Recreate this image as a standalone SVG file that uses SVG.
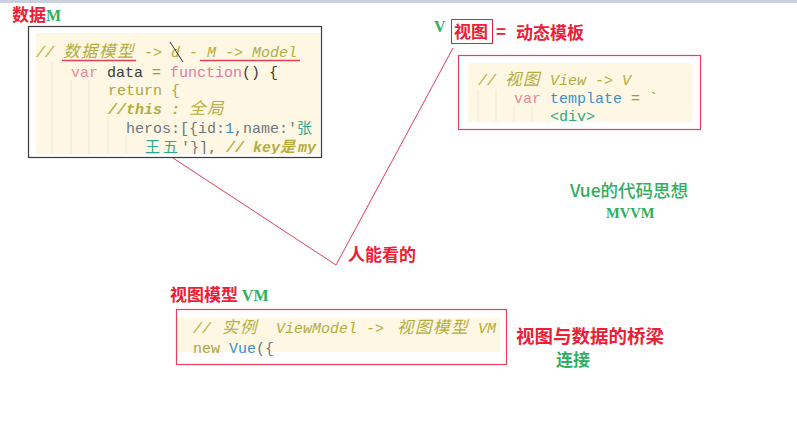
<svg xmlns="http://www.w3.org/2000/svg" width="797" height="435" viewBox="0 0 797 435">
<style>
.lbl{font-family:"Noto Sans CJK SC","Noto Sans",sans-serif;font-weight:bold;font-size:17px}
.red{fill:#ec2035}
.grn{fill:#2fae5e}
.ser{font-family:"Liberation Serif",serif;font-weight:bold}
.code{font-family:"Liberation Mono","DejaVu Sans Mono","Noto Sans CJK SC",monospace;font-size:15px}
.cj{font-family:"Noto Sans CJK SC",sans-serif;font-size:16.5px;letter-spacing:1.5px}
.cs{font-family:"Noto Sans CJK SC",sans-serif;font-size:15px;letter-spacing:3px}
.cm{fill:#b3ad3e;font-style:italic}
.kw{fill:#e8899c}
.fn{fill:#e27aa6}
.dk{fill:#3a3a3a}
.op{fill:#a39c1c}
.ol{fill:#ada443}
.gy{fill:#6f7780}
.bl{fill:#3d8fd0}
.tl{fill:#2ea88e}
.cream{fill:#fdf7e3}
.guide{stroke:#efe9d3;stroke-width:1}
.conn{stroke:#e0405a;stroke-width:1;fill:none}
</style>
<defs>
<clipPath id="c1"><rect x="36" y="33" width="284" height="121"/></clipPath>
</defs>
<rect x="0" y="0" width="797" height="3" fill="#c9d1de"/>

<g id="connectors">
<polyline class="conn" points="173,158 336,265 453,48"/>
</g>

<g id="model">
<text class="lbl red" x="12" y="21">数据<tspan class="ser grn" font-size="16">M</tspan></text>
<rect x="28.5" y="26.5" width="293" height="131" fill="#ffffff" stroke="#3a3a3a" stroke-width="1.2"/>
<rect class="cream" x="36" y="33" width="284" height="121"/>
<g class="guide">
<line x1="52" y1="62" x2="52" y2="154"/><line x1="71" y1="80" x2="71" y2="154"/><line x1="89" y1="80" x2="89" y2="154"/><line x1="108" y1="118" x2="108" y2="154"/><line x1="126" y1="137" x2="126" y2="154"/>
</g>
<g clip-path="url(#c1)">
<text class="code" y="57" xml:space="preserve"><tspan class="cm" x="36">// </tspan><tspan class="cm cj" x="63">数据模型</tspan><tspan class="cm" x="135"> -&gt; d - M -&gt; Model</tspan></text>
<line x1="62" y1="60.5" x2="136" y2="60.5" stroke="#e0405a" stroke-width="1.3"/>
<line x1="200" y1="60.5" x2="300" y2="60.5" stroke="#e0405a" stroke-width="1.3"/>
<line x1="170" y1="42" x2="183" y2="62" stroke="#333" stroke-width="1"/>
<text class="code" y="77" xml:space="preserve"><tspan class="kw" x="71">var</tspan><tspan class="dk"> data </tspan><tspan class="op">=</tspan> <tspan class="fn">function</tspan><tspan class="dk">() {</tspan></text>
<text class="code ol" x="108" y="95">return {</text>
<text class="code" y="114" xml:space="preserve"><tspan class="cm" x="108" font-weight="bold">//this : </tspan><tspan class="cm cj" x="189">全局</tspan></text>
<text class="code" y="133" xml:space="preserve"><tspan class="gy" x="126">heros:[{id:</tspan><tspan class="bl">1</tspan><tspan class="gy">,name:'</tspan><tspan class="tl cs" x="297">张</tspan></text>
<text class="code" y="152" xml:space="preserve"><tspan class="tl cs" x="145">王五</tspan><tspan class="gy" x="181">'}], </tspan><tspan class="cm" x="226" font-weight="bold">// key</tspan><tspan class="cm cs" x="280" font-weight="bold">是</tspan><tspan class="cm" x="298" font-weight="bold">my</tspan></text>
</g>
</g>

<g id="view">
<text class="ser grn" x="434" y="32" font-size="16">V</text>
<rect x="451.5" y="19.5" width="41" height="24" fill="none" stroke="#ec2035" stroke-width="1"/>
<text class="lbl red" x="454" y="38">视图</text>
<text class="lbl red" x="496" y="38">=</text>
<text class="lbl red" x="516" y="39">动态模板</text>
<rect x="458.5" y="55.5" width="242" height="74" fill="#ffffff" stroke="#e8405a" stroke-width="1.2"/>
<rect class="cream" x="468" y="63" width="224" height="59"/>
<g class="guide">
<line x1="478" y1="90" x2="478" y2="122"/><line x1="496" y1="90" x2="496" y2="122"/><line x1="514" y1="106" x2="514" y2="122"/><line x1="532" y1="106" x2="532" y2="122"/>
</g>
<text class="code" y="85" xml:space="preserve"><tspan class="cm" x="478">// </tspan><tspan class="cm cj" x="505">视图</tspan><tspan class="cm" x="541"> View -&gt; V</tspan></text>
<text class="code" y="103" xml:space="preserve"><tspan class="kw" x="514">var</tspan> <tspan class="bl">template</tspan> <tspan class="op">= `</tspan></text>
<text class="code tl" x="550" y="121">&lt;div&gt;</text>
</g>

<g id="see">
<text class="lbl red" x="348" y="261">人能看的</text>
</g>

<g id="idea">
<text class="grn" x="570" y="197" style="font-family:'Noto Sans CJK SC',sans-serif;font-size:17.5px;font-weight:500">Vue的代码思想</text>
<text class="ser grn" x="606" y="218" font-size="14.5">MVVM</text>
</g>

<g id="viewmodel">
<text class="lbl red" x="170" y="301">视图模型 <tspan class="ser grn" font-size="16">VM</tspan></text>
<rect x="176.5" y="309.5" width="330" height="55" fill="#ffffff" stroke="#e8405a" stroke-width="1.2"/>
<rect class="cream" x="178" y="318" width="322" height="34"/>
<text class="code" y="333" xml:space="preserve"><tspan class="cm" x="193">// </tspan><tspan class="cm cj" x="222">实例</tspan><tspan class="cm" x="258">  ViewModel -&gt; </tspan><tspan class="cm cj" x="397">视图模型</tspan><tspan class="cm" x="469"> VM</tspan></text>
<text class="code" y="353" xml:space="preserve"><tspan class="ol" x="193">new</tspan> <tspan class="bl">Vue</tspan><tspan class="gy">({</tspan></text>
</g>

<g id="bridge">
<text class="lbl red" x="516" y="343" style="font-size:18.5px">视图与数据的桥梁</text>
<text class="lbl grn" x="556" y="366">连接</text>
</g>
</svg>
